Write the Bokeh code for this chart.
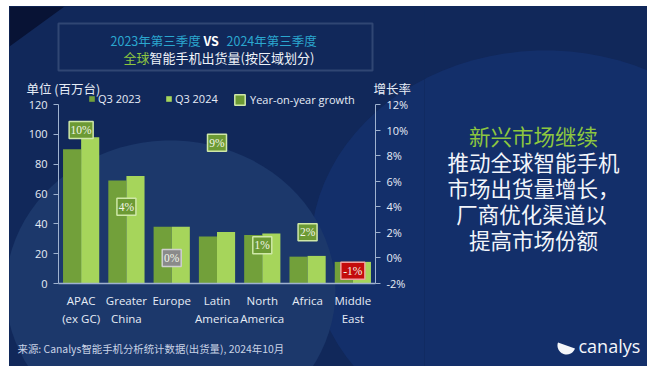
import math
from bokeh.plotting import figure
from bokeh.layouts import row
from bokeh.models import (ColumnDataSource, FactorRange, Range1d, LinearAxis, Label,
                          PolyAnnotation, BoxAnnotation, Legend, LegendItem, FixedTicker,
                          PrintfTickFormatter)
from bokeh.transform import dodge
from bokeh.embed import file_html
from bokeh.resources import INLINE

# ---------------- data ----------------
regions = ["APAC\n(ex GC)", "Greater\nChina", "Europe", "Latin\nAmerica",
           "North\nAmerica", "Africa", "Middle\nEast"]
q3_2023 = [90, 69, 38, 31.5, 32.5, 18, 14.5]
q3_2024 = [98, 72, 38, 34.5, 33.5, 18.5, 14.5]
yoy_growth = [10, 4, 0, 9, 1, 2, -1]
yoy_labels = ["10%", "4%", "0%", "9%", "1%", "2%", "-1%"]
left_ticks = [0, 20, 40, 60, 80, 100, 120]
right_ticks = [-2, 0, 2, 4, 6, 8, 10, 12]

# ---------------- styling / geometry ----------------
BG = "#11285a"
C23 = "#72a03a"
C24 = "#a6d55b"
TXT = "#e6ecf6"
CJK = "Noto Sans CJK SC"
LAT = "Open Sans"

OX, OY = 9, 6                 # page origin of the dark panel
H = 360
PAD = 49                      # px left/right of the category area
CAT_W = 317                   # px of the 7 categories
W1 = PAD + CAT_W + PAD
W2 = 638 - W1
Y0_PAGE, Y120_PAGE = 283, 104
ppu = (Y0_PAGE - Y120_PAGE) / 120.0
y_lo = -(OY + H - Y0_PAGE) / ppu
y_hi = 120 + (Y120_PAGE - OY) / ppu
gp = (Y0_PAGE - Y120_PAGE) / 14.0
g_lo = -2 - (OY + H - Y0_PAGE) / gp
g_hi = 12 + (Y120_PAGE - OY) / gp
unit = CAT_W / len(regions)

box_fill = ["#6c9a34" if g > 0 else ("#8a8a8a" if g == 0 else "#c40c0c") for g in yoy_growth]
box_line = ["#cfe8a8" if g > 0 else ("#cfcfcf" if g == 0 else "#f0a0a0") for g in yoy_growth]
box_w = [9 + 5 * len(s) for s in yoy_labels]

src = ColumnDataSource(dict(region=regions, q23=q3_2023, q24=q3_2024, g=yoy_growth,
                            lab=yoy_labels, bf=box_fill, bl=box_line, bw=box_w))

p = figure(width=W1, height=H,
           x_range=FactorRange(*regions, range_padding=PAD / unit,
                               range_padding_units="absolute"),
           y_range=Range1d(y_lo, y_hi), output_backend="svg", toolbar_location=None,
           min_border=0)
p.border_fill_color = BG
p.background_fill_color = BG
p.outline_line_color = None
p.grid.visible = False
p.extra_y_ranges = {"growth": Range1d(g_lo, g_hi)}

def px(x):   # page x -> canvas screen x
    return x - OX

def py(y):   # page y -> canvas screen y (upward from bottom)
    return (OY + H) - y

def ellipse(cx, cy, rx, ry, n=90, a0=0.0, a1=2 * math.pi):
    pts = [(cx + rx * math.cos(a0 + (a1 - a0) * i / n),
            cy + ry * math.sin(a0 + (a1 - a0) * i / n)) for i in range(n + 1)]
    return [q[0] for q in pts], [q[1] for q in pts]

def poly(fig, xs, ys, color, alpha=1.0, dx=OX, level="underlay"):
    fig.add_layout(PolyAnnotation(xs=[x - dx for x in xs], ys=[(OY + H) - y for y in ys],
                                  xs_units="screen", ys_units="screen", fill_color=color,
                                  fill_alpha=alpha, line_color=None, level=level))

# ---------------- background decoration ----------------
gx, gy = ellipse(545, 250, 235, 200)
poly(p, gx, gy, "#153579", 0.55)
poly(p, [OX, 64, OX], [OY, OY, 46], "#081335")
ex, ey = ellipse(170, 290, 165, 150)
poly(p, ex, ey, "#1c386b")

# ---------------- bars ----------------
r23 = p.vbar(x=dodge("region", -0.2, range=p.x_range), top="q23", width=0.4, source=src,
             fill_color=C23, line_color=None)
r24 = p.vbar(x=dodge("region", 0.2, range=p.x_range), top="q24", width=0.4, source=src,
             fill_color=C24, line_color=None)

rg = p.rect(x="region", y="g", width="bw", height=17, width_units="screen",
            height_units="screen", source=src, y_range_name="growth",
            fill_color="bf", line_color="bl", line_width=1.5)
p.text(x="region", y="g", text="lab", source=src, y_range_name="growth",
       text_align="center", text_baseline="middle", text_font_size="11.5px",
       text_font=LAT, text_color="#f2f7e8")

# ---------------- axes ----------------
ya = p.yaxis[0]
ya.ticker = FixedTicker(ticks=left_ticks)
ya.fixed_location = 0
ya.bounds = (0, 120)
ra = LinearAxis(y_range_name="growth", ticker=FixedTicker(ticks=right_ticks),
                formatter=PrintfTickFormatter(format="%d%%"), fixed_location=len(regions),
                bounds=(-2, 12))
p.add_layout(ra, "right")
for ax in (ya, ra):
    ax.axis_line_color = "#9fb2cf"
    ax.major_tick_line_color = "#9fb2cf"
    ax.major_tick_out = 5
    ax.major_tick_in = 0
    ax.minor_tick_line_color = None
    ax.major_label_text_color = TXT
    ax.major_label_text_font = LAT
    ax.major_label_text_font_size = "11px"
    ax.major_label_standoff = 6
xa = p.xaxis[0]
xa.fixed_location = 0
xa.bounds = (0, len(regions))
xa.axis_line_color = "#9fb2cf"
xa.axis_line_width = 1.5
xa.major_tick_line_color = None
xa.major_label_text_color = TXT
xa.major_label_text_font = LAT
xa.major_label_text_font_size = "11.5px"
xa.major_label_standoff = 3

# ---------------- legends ----------------
leg1 = Legend(items=[LegendItem(label="Q3 2023", renderers=[r23]),
                     LegendItem(label="Q3 2024", renderers=[r24])],
              orientation="horizontal", location=(px(88), py(106)),
              glyph_width=7, glyph_height=7, label_height=12, label_standoff=3,
              spacing=24, padding=0, margin=0, border_line_color=None,
              background_fill_alpha=0, label_text_color=TXT, label_text_font=LAT,
              label_text_font_size="11px")
leg2 = Legend(items=[LegendItem(label="Year-on-year growth", renderers=[rg])],
              orientation="horizontal", location=(px(233), py(107)),
              glyph_width=13, glyph_height=13, label_height=13, label_standoff=4,
              padding=0, margin=0, border_line_color=None, background_fill_alpha=0,
              label_text_color=TXT, label_text_font=LAT, label_text_font_size="11px")
p.add_layout(leg1)
p.add_layout(leg2)

def lab(fig, x, y, t, size, color=TXT, align="left", font=CJK, style="normal", dx=OX,
        level="annotation"):
    fig.add_layout(Label(x=x - dx, y=(OY + H) - y, x_units="screen", y_units="screen",
                         text=t, text_align=align, text_baseline="middle", text_font=font,
                         text_font_size=size, text_color=color, text_font_style=style,
                         level=level))

lab(p, 239.5, 100.5, "%", "10px", color="#f4ffe4", font=LAT, style="bold", align="center",
    level="overlay")
lab(p, 26, 88, "单位 (百万台)", "12.5px")
lab(p, 373, 88, "增长率", "12.5px")

# title box
p.add_layout(BoxAnnotation(left=px(58), right=px(372), top=py(23), bottom=py(70),
                           left_units="screen", right_units="screen",
                           top_units="screen", bottom_units="screen",
                           fill_alpha=0, line_color="#7a8fb0", line_width=2))
lab(p, 110, 40, "2023年第三季度", "12.5px", color="#2ba7cf")
lab(p, 203, 40, "VS", "12.5px", color="#ffffff", style="bold")
lab(p, 226, 40, "2024年第三季度", "12.5px", color="#2ba7cf")
lab(p, 123, 57, "全球", "13px", color="#8dc63f")
lab(p, 149, 57, "智能手机出货量(按区域划分)", "13px", color="#eef2f8")
lab(p, 17, 348, "来源: Canalys智能手机分析统计数据(出货量), 2024年10月", "10.4px",
    color="#c9d3e6")

# ---------------- right panel (message + logo) ----------------
RX = OX + W1
q = figure(width=W2, height=H, x_range=Range1d(0, W2), y_range=Range1d(0, H),
           output_backend="svg", toolbar_location=None, min_border=0)
q.axis.visible = False
q.grid.visible = False
q.outline_line_color = None
q.border_fill_color = BG
q.background_fill_color = BG
poly(q, gx, gy, "#153579", 0.55, dx=RX)

lab(q, 533, 135, "新兴市场继续", "21.5px", color="#8dc63f", align="center", dx=RX)
lab(q, 533, 161, "推动全球智能手机", "21.5px", color="#f2f5fa", align="center", dx=RX)
lab(q, 533, 187, "市场出货量增长，", "21.5px", color="#f2f5fa", align="center", dx=RX)
lab(q, 531, 213, "厂商优化渠道以", "21.5px", color="#f2f5fa", align="center", dx=RX)
lab(q, 533, 239, "提高市场份额", "21.5px", color="#f2f5fa", align="center", dx=RX)
lab(q, 578, 345, "canalys", "18px", color="#f4f6fa", font=LAT, dx=RX)
lx, ly = ellipse(566, 345, 9, 9, 30, math.radians(20), math.radians(200))
poly(q, lx, ly, "#f4f6fa", dx=RX, level="annotation")

layout = row(p, q, spacing=0, margin=(OY, 0, 0, OX),
             styles={"background-color": BG})
open("out.html", "w").write(file_html(layout, INLINE))
